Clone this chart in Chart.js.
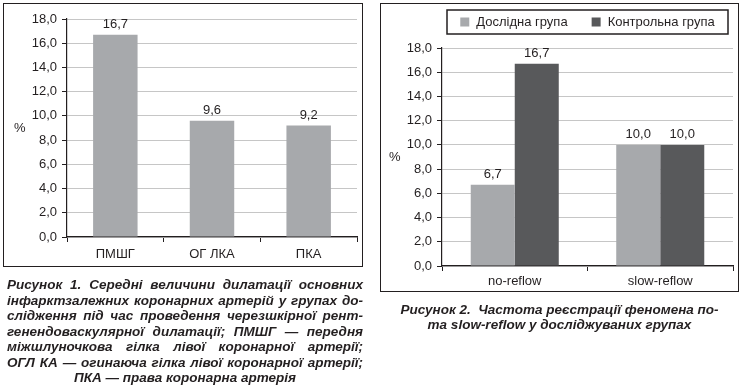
<!DOCTYPE html>
<html lang="uk">
<head>
<meta charset="utf-8">
<title>Рисунок 1, Рисунок 2</title>
<script src="https://cdn.jsdelivr.net/npm/chart.js@4.4.1/dist/chart.umd.min.js"></script>
<style>
  html, body { margin: 0; padding: 0; background: #fff; }
  body { position: relative; width: 743px; height: 390px; overflow: hidden; }
  canvas { position: absolute; }
  .frame { position: absolute; box-sizing: border-box; border: 1.5px solid #231f20; pointer-events: none; }
  .caption { position: absolute; font-family: 'Liberation Sans', Arial, sans-serif; font-weight: bold; font-style: italic; color: #231f20; font-size: 13.5px; }
  .caption div { height: 15.5px; line-height: 15.5px; white-space: nowrap; }
  .justify div { text-align: justify; text-align-last: justify; white-space: normal; }
  .justify div.last { text-align-last: center; }
  .center div { text-align: center; height: 14.5px; line-height: 14.5px; }
</style>
</head>
<body>
<canvas id="chartArteries" width="370" height="270" style="left:0;top:0"></canvas>
<canvas id="chartReflow" width="373" height="300" style="left:370px;top:0"></canvas>
<div class="frame" style="left:3px;top:3px;width:360px;height:264px"></div>
<div class="frame" style="left:380px;top:3px;width:359px;height:289px"></div>

<div class="caption justify" style="left:7px;top:277px;width:356px">
  <div>Рисунок 1. Середні величини дилатації основних</div>
  <div>інфарктзалежних коронарних артерій у групах до-</div>
  <div>слідження під час проведення черезшкірної рент-</div>
  <div>генендоваскулярної дилатації; ПМШГ — передня</div>
  <div>міжшлуночкова гілка лівої коронарної артерії;</div>
  <div>ОГЛ КА — огинаюча гілка лівої коронарної артерії;</div>
  <div class="last">ПКА — права коронарна артерія</div>
</div>
<div class="caption center" style="left:380px;top:303px;width:359px">
  <div>Рисунок 2.&nbsp; Частота реєстрації феномена по-</div>
  <div>та slow-reflow у досліджуваних групах</div>
</div>

<script>
// ---- дані ----
const arteryLabels = ['ПМШГ', 'ОГ ЛКА', 'ПКА'];
const arteryValues = [16.7, 9.6, 9.2];

const reflowLabels = ['no-reflow', 'slow-reflow'];
const studyGroup = [6.7, 10.0];
const controlGroup = [16.7, 10.0];
const groupNames = ['Дослідна група', 'Контрольна група'];

const yMin = 0, yMax = 18, yStep = 2;
const unitText = '%';

// ---- стиль ----
const ink = '#231f20';
const gridColor = '#c6c6c6';
const lightBar = '#a7a9ac';
const darkBar = '#58595b';
const fontFamily = "'Liberation Sans', Arial, Helvetica, sans-serif";
const baseFont = { family: fontFamily, size: 13 };

const fmt = v => Number(v).toFixed(1).replace('.', ',');

// значення над стовпчиками
const valueLabels = {
    id: 'valueLabels',
    afterDatasetsDraw(chart) {
        const ctx = chart.ctx;
        ctx.save();
        ctx.font = `13px ${fontFamily}`;
        ctx.fillStyle = ink;
        ctx.textAlign = 'center';
        ctx.textBaseline = 'bottom';
        chart.data.datasets.forEach((ds, i) => {
            chart.getDatasetMeta(i).data.forEach((bar, j) => {
                ctx.fillText(fmt(ds.data[j]), bar.x, bar.y - 4);
            });
        });
        ctx.restore();
    }
};

// горизонтальний підпис осі "%"
const unitLabel = {
    id: 'unitLabel',
    afterDraw(chart, args, opts) {
        const ctx = chart.ctx;
        const area = chart.chartArea;
        ctx.save();
        ctx.font = `13px ${fontFamily}`;
        ctx.fillStyle = ink;
        ctx.textAlign = 'left';
        ctx.textBaseline = 'middle';
        ctx.fillText(opts.text, opts.x, (area.top + area.bottom) / 2);
        ctx.restore();
    }
};

// легенда в рамці
const boxLegend = {
    id: 'boxLegend',
    afterDraw(chart, args, opts) {
        if (!opts.show) return;
        const ctx = chart.ctx;
        ctx.save();
        ctx.font = `13px ${fontFamily}`;
        ctx.lineWidth = 1.5;
        ctx.strokeStyle = ink;
        ctx.strokeRect(opts.left, opts.top, opts.width, opts.height);

        const sq = 9, gapText = 7, gapItem = 24;
        const items = chart.data.datasets.map(ds => ({
            label: ds.label, color: ds.backgroundColor, w: ctx.measureText(ds.label).width
        }));
        let total = 0;
        items.forEach((it, i) => { total += sq + gapText + it.w + (i ? gapItem : 0); });
        let x = opts.left + (opts.width - total) / 2;
        const cy = opts.top + opts.height / 2;
        ctx.textBaseline = 'middle';
        items.forEach(it => {
            ctx.fillStyle = it.color;
            ctx.fillRect(x, cy - sq / 2, sq, sq);
            x += sq + gapText;
            ctx.fillStyle = ink;
            ctx.fillText(it.label, x, cy + 0.5);
            x += it.w + gapItem;
        });
        ctx.restore();
    }
};

function makeScales(yWidth, xHeight, xPad) {
    return {
        x: {
            ticks: { color: ink, font: baseFont, padding: xPad },
            grid: { drawOnChartArea: false, tickColor: ink, tickLength: 5, offset: true },
            border: { color: ink, width: 1.2 },
            afterFit: s => { s.height = xHeight; }
        },
        y: {
            min: yMin, max: yMax,
            ticks: { stepSize: yStep, color: ink, font: baseFont, padding: 5, callback: v => fmt(v) },
            grid: { color: gridColor, tickColor: ink, tickLength: 5, lineWidth: 1 },
            border: { color: ink, width: 1.2 },
            afterFit: s => { s.width = yWidth; }
        }
    };
}

// ---- Рисунок 1 ----
new Chart(document.getElementById('chartArteries').getContext('2d'), {
    type: 'bar',
    data: {
        labels: arteryLabels,
        datasets: [{
            label: 'Дилатація',
            data: arteryValues,
            backgroundColor: lightBar,
            borderWidth: 0,
            categoryPercentage: 1,
            barPercentage: 0.46
        }]
    },
    options: {
        responsive: false,
        animation: false,
        layout: { padding: { left: 0, right: 13, top: 19, bottom: 0 } },
        plugins: {
            legend: { display: false },
            tooltip: { enabled: false },
            unitLabel: { text: unitText, x: 14 },
            boxLegend: { show: false }
        },
        scales: makeScales(67, 33, 5)
    },
    plugins: [valueLabels, unitLabel, boxLegend]
});

// ---- Рисунок 2 ----
new Chart(document.getElementById('chartReflow').getContext('2d'), {
    type: 'bar',
    data: {
        labels: reflowLabels,
        datasets: [
            { label: groupNames[0], data: studyGroup, backgroundColor: lightBar, borderWidth: 0, categoryPercentage: 0.605, barPercentage: 1 },
            { label: groupNames[1], data: controlGroup, backgroundColor: darkBar, borderWidth: 0, categoryPercentage: 0.605, barPercentage: 1 }
        ]
    },
    options: {
        responsive: false,
        animation: false,
        layout: { padding: { left: 0, right: 10, top: 48, bottom: 0 } },
        plugins: {
            legend: { display: false },
            tooltip: { enabled: false },
            unitLabel: { text: unitText, x: 19 },
            boxLegend: { show: true, left: 77, top: 10, width: 281, height: 24 }
        },
        scales: makeScales(72, 34, 3)
    },
    plugins: [valueLabels, unitLabel, boxLegend]
});
</script>
</body>
</html>
